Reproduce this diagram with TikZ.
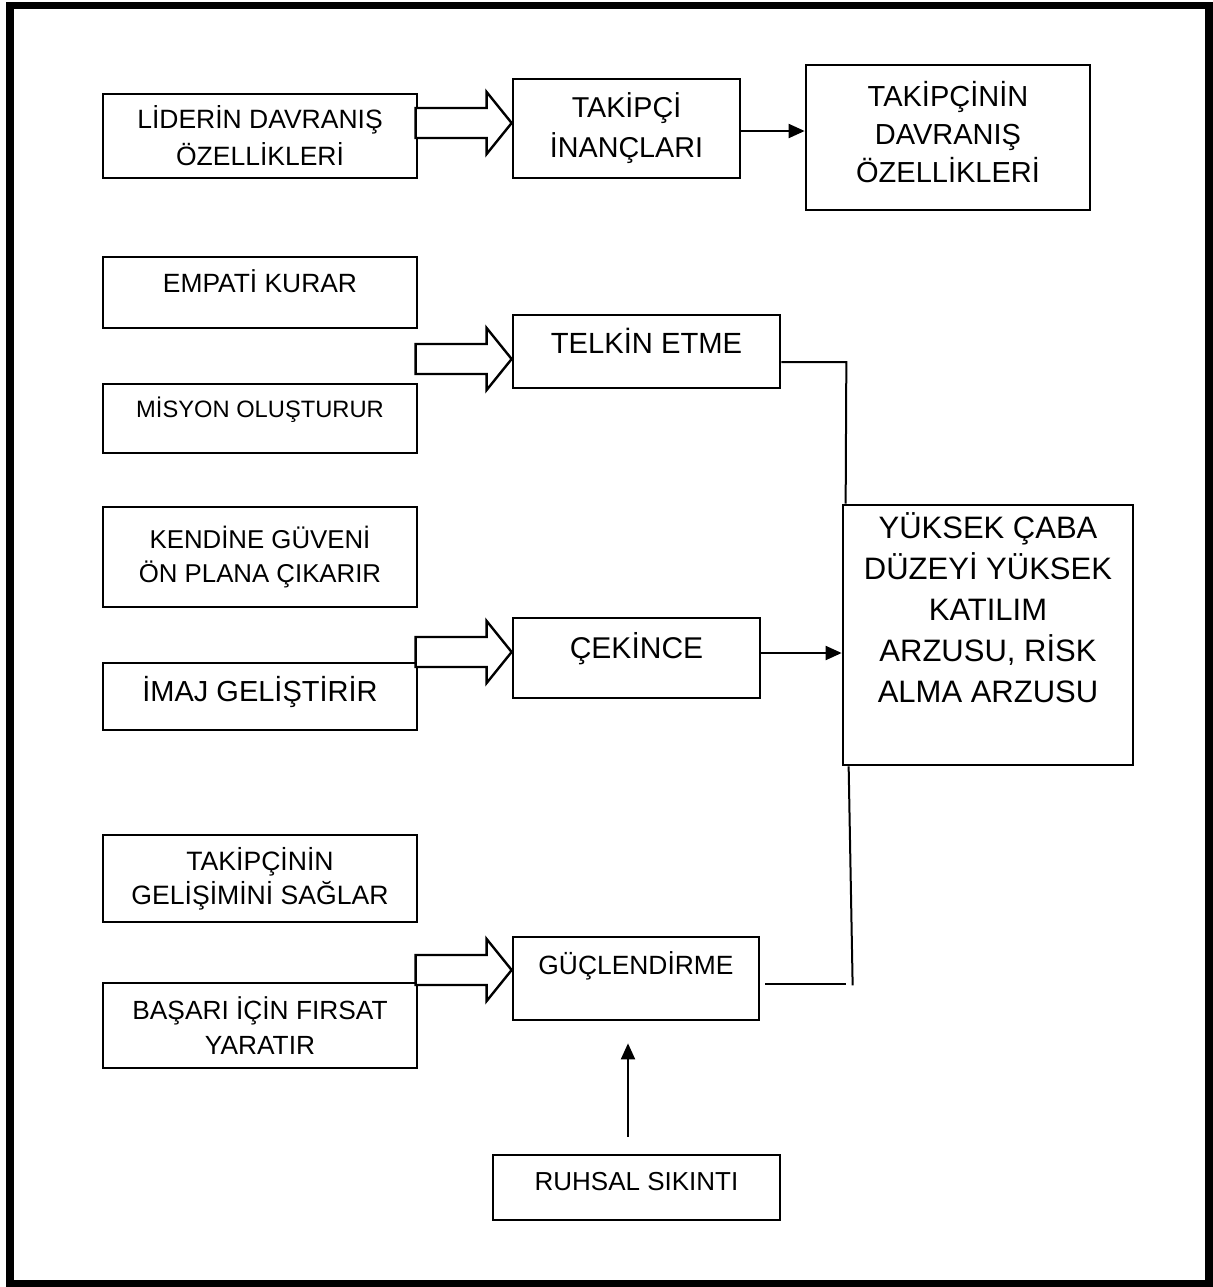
\documentclass[tikz,border=0pt]{standalone}
\usepackage{fontspec}
\setmainfont{Liberation Sans}
\usetikzlibrary{arrows.meta,calc}
\begin{document}
\begin{tikzpicture}[x=.5pt, y=-.5pt,
	box/.style={draw, line width=1.35pt, align=center, inner sep=0pt},
	txtup/.style 2 args={text height=#1, text depth=#2},
	link/.style={line width=1pt},
	thinarrow/.style={line width=1pt, -{Triangle[length=8pt,width=7pt]}},
	fatarrow/.style={line width=1.2pt, fill=white, line join=miter}]
	\useasboundingbox (0,0) rectangle (1212,1287);
	%frame
	\draw[line width=3.75pt] (10,5.5) rectangle (1209,1284);
	%top row
	\node[box, minimum width=157pt, minimum height=42pt, font=\fontsize{13.25}{18.5}\selectfont] (lider) at (260,136) {LİDERİN DAVRANIŞ\\ÖZELLİKLERİ};
	\node[box, minimum width=113.5pt, minimum height=49.5pt, font=\fontsize{14.35}{20}\selectfont] (inanc) at (626.5,128.5) {TAKİPÇİ\\İNANÇLARI};
	\node[box, minimum width=142pt, minimum height=72.5pt] (takipdav) at (948,137.5) {};
	\node[align=center, font=\fontsize{14.5}{19}\selectfont] (takipdavtxt) at ([yshift=2.5pt]takipdav.center) {TAKİPÇİNİN\\DAVRANIŞ\\ÖZELLİKLERİ};
	%left column
	\node[box, minimum width=157pt, minimum height=35.5pt, txtup={9.45pt}{9pt}, font=\fontsize{13.2}{16}\selectfont] (empati) at (260,292.5) {EMPATİ KURAR};
	\node[box, minimum width=157pt, minimum height=34.5pt, txtup={8.5pt}{10pt}, font=\fontsize{11.85}{14}\selectfont] (misyon) at (260,418.5) {MİSYON OLUŞTURUR};
	\node[box, minimum width=157pt, minimum height=50pt, font=\fontsize{12.9}{17}\selectfont] (kendine) at (260,557) {KENDİNE GÜVENİ\\ÖN PLANA ÇIKARIR};
	\node[box, minimum width=157pt, minimum height=33.5pt, txtup={10.4pt}{5pt}, font=\fontsize{14.5}{17}\selectfont] (imaj) at (260,696.5) {İMAJ GELİŞTİRİR};
	\node[box, minimum width=157pt, minimum height=43.5pt, font=\fontsize{13.3}{17}\selectfont] (gelisim) at (260,878.5) {TAKİPÇİNİN\\GELİŞİMİNİ SAĞLAR};
	\node[box, minimum width=157pt, minimum height=42.5pt, font=\fontsize{13.15}{17.5}\selectfont] (basari) at (260,1025.5) {BAŞARI İÇİN FIRSAT\\YARATIR};
	%middle column
	\node[box, minimum width=133.5pt, minimum height=36.5pt, txtup={10.45pt}{8.5pt}, font=\fontsize{14.6}{17}\selectfont] (telkin) at (646.5,351.5) {TELKİN ETME};
	\node[box, minimum width=123.5pt, minimum height=40pt, txtup={10.74pt}{10pt}, font=\fontsize{15}{18}\selectfont] (cekince) at (636.5,658) {ÇEKİNCE};
	\node[box, minimum width=123pt, minimum height=41.5pt, txtup={9.45pt}{13.5pt}, font=\fontsize{13.2}{16}\selectfont] (guclen) at (636,978.5) {GÜÇLENDİRME};
	\node[box, minimum width=143.5pt, minimum height=32.5pt, txtup={9.3pt}{6.5pt}, font=\fontsize{13}{16}\selectfont] (ruhsal) at (636.5,1187.5) {RUHSAL SIKINTI};
	%result
	\node[box, minimum width=145pt, minimum height=130pt] (yuksek) at (988,635) {};
	\node[align=center, font=\fontsize{15.5}{20.5}\selectfont] (yuksektxt) at ([yshift=13.5pt]yuksek.center) {YÜKSEK ÇABA\\DÜZEYİ YÜKSEK\\KATILIM\\ARZUSU, RİSK\\ALMA ARZUSU};
	%block arrows
	\foreach \tgt/\dy in {inanc/2.75pt, telkin/-3.75pt, cekince/3pt, guclen/4.25pt}
	\draw[fatarrow] ([yshift=\dy]\tgt.west) -- ++(-25,-31) -- ++(0,16) -- ++(-71,0) -- ++(0,30) -- ++(71,0) -- ++(0,16) -- cycle;
	%connectors
	\draw[thinarrow] ($(inanc.east)+(0,2.5)$) coordinate (a) -- (a -| takipdav.west);
	\draw[thinarrow] ($(cekince.east)+(0,-5)$) coordinate (b) -- (b -| yuksek.west);
	\draw[link] ($(telkin.east)+(0,10.5)$) -- ++(65,0) -- ($(yuksek.north west)+(4,0)$);
	\draw[link] ($(yuksek.south west)+(7,0)$) -- ++(4,219);
	\draw[link] ($(guclen.east)+(5,5.5)$) -- ++(81,0);
	\draw[thinarrow] ($(ruhsal.north)+(-8.5,-17)$) -- ($(guclen.south)+(-8,22)$);
\end{tikzpicture}
\end{document}
